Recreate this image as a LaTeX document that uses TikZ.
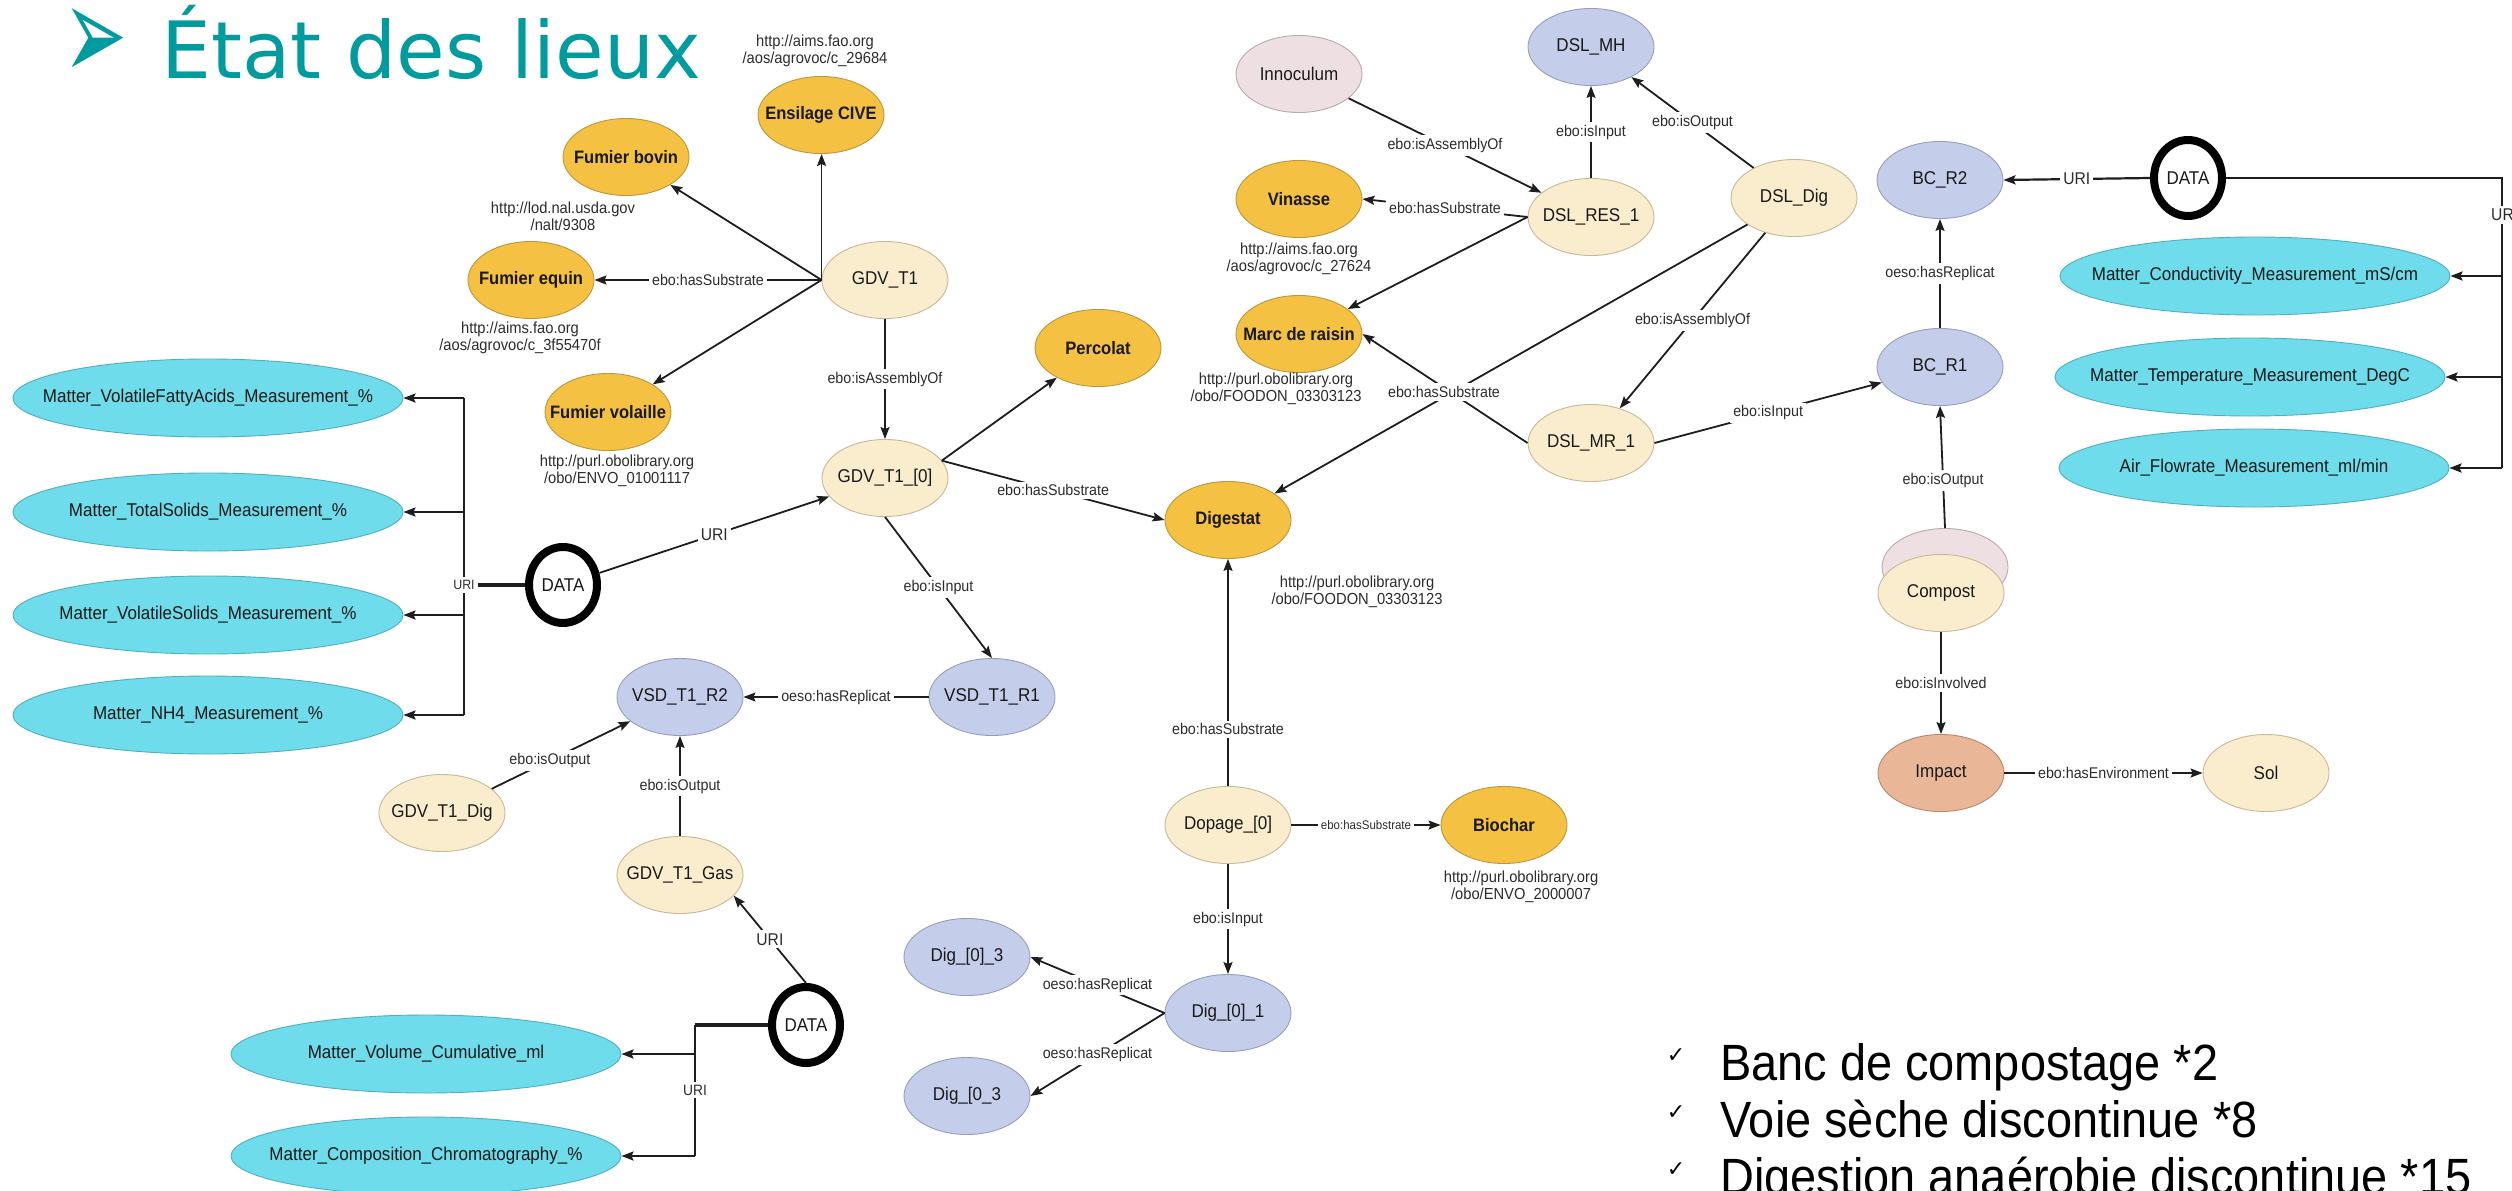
\documentclass[tikz,border=0pt]{standalone}
\usepackage{graphicx}
\usepackage{fontspec}
\setmainfont{Liberation Sans}
\newfontfamily\graphfont[FakeStretch=0.92]{Liberation Sans}
\newfontfamily\listfont[FakeStretch=0.92]{Liberation Sans}
\newfontfamily\titlefont{DejaVu Sans}
\usetikzlibrary{arrows.meta,shapes.geometric}

\definecolor{titleteal}{RGB}{0,155,158}
\definecolor{goldfill}{RGB}{244,193,66}
\definecolor{golddraw}{RGB}{190,150,60}
\definecolor{creamfill}{RGB}{250,237,205}
\definecolor{creamdraw}{RGB}{200,185,150}
\definecolor{lavfill}{RGB}{196,205,234}
\definecolor{lavdraw}{RGB}{150,158,190}
\definecolor{pinkfill}{RGB}{238,224,226}
\definecolor{pinkdraw}{RGB}{185,170,172}
\definecolor{salmonfill}{RGB}{234,182,152}
\definecolor{salmondraw}{RGB}{185,135,110}
\definecolor{cyanfill}{RGB}{110,220,234}
\definecolor{cyandraw}{RGB}{80,175,195}
\definecolor{linecol}{RGB}{30,30,30}
\definecolor{nodeink}{RGB}{25,25,25}
\definecolor{labelink}{RGB}{45,45,45}

% zero-width box: keeps the ellipse size independent of the text width
\newcommand\ctr[1]{\makebox[0pt][c]{#1}}

\tikzset{
  base/.style={ellipse, minimum width=126pt, minimum height=77pt, inner sep=0pt,
    line width=0.9pt, text=nodeink, font=\graphfont\fontsize{18.5}{20}\selectfont},
  gold/.style={base, fill=goldfill, draw=golddraw, font=\graphfont\bfseries\fontsize{18}{20}\selectfont},
  cream/.style={base, fill=creamfill, draw=creamdraw},
  lav/.style={base, fill=lavfill, draw=lavdraw},
  pinkn/.style={base, fill=pinkfill, draw=pinkdraw},
  salmon/.style={base, fill=salmonfill, draw=salmondraw},
  meas/.style={ellipse, minimum width=390pt, minimum height=78pt, inner sep=0pt,
    fill=cyanfill, draw=cyandraw, line width=0.9pt, text=nodeink,
    font=\graphfont\fontsize{18.5}{20}\selectfont},
  datan/.style={ellipse, minimum width=68pt, minimum height=76pt, inner sep=0pt,
    draw=black, line width=8pt, fill=white, text=nodeink,
    font=\graphfont\fontsize{18.5}{20}\selectfont},
  url/.style={align=center, inner sep=0pt, text=labelink,
    font=\graphfont\fontsize{16}{17}\selectfont},
  edge/.style={draw=linecol, line width=1.8pt},
  arr/.style={edge, -{Stealth[length=12pt,width=9pt,inset=2pt]}},
  busedge/.style={draw=linecol, line width=2.2pt},
  busarr/.style={busedge, -{Stealth[length=12pt,width=9pt,inset=2pt]}},
  thickedge/.style={draw=linecol, line width=3.4pt},
  elab/.style={fill=white, inner sep=3pt, text=labelink,
    font=\graphfont\fontsize{15.5}{17}\selectfont},
  urilab/.style={elab, font=\graphfont\fontsize{17}{18}\selectfont},
  buslab/.style={elab, font=\graphfont\fontsize{13.5}{15}\selectfont},
  smalllab/.style={elab, font=\graphfont\fontsize{12.5}{14}\selectfont},
  bullettext/.style={anchor=base west, inner sep=0pt, text=black,
    font=\listfont\fontsize{51}{57}\selectfont},
  tick/.style={inner sep=0pt, text=black, font=\titlefont\fontsize{22}{22}\selectfont},
}

\begin{document}
\begin{tikzpicture}[x=1pt,y=-1pt]
\useasboundingbox (0,0) rectangle (2512,1191);
\fill[white] (0,0) rectangle (2512,1191);

% ---- heading ----
\node[inner sep=0pt, text=titleteal, font=\titlefont\fontsize{62}{62}\selectfont] (bullet) at (96,44) {\resizebox{64pt}{72pt}{➢}};
\node[anchor=base west, inner sep=0pt, text=titleteal, font=\titlefont\fontsize{79}{80}\selectfont] (title) at (161,78) {État des lieux};

% ---- GDV branch ----
\node[gold]  (ens)  at (821,115) {\ctr{Ensilage CIVE}};
\node[gold]  (bov)  at (626,157) {\ctr{Fumier bovin}};
\node[gold]  (equ)  at (531,280) {\ctr{Fumier equin}};
\node[gold]  (vol)  at (608,412) {\ctr{Fumier volaille}};
\node[cream] (g1)   at (885,280) {\ctr{GDV\_T1}};
\node[cream] (g0)   at (885,478) {\ctr{GDV\_T1\_[0]}};
\node[gold]  (perc) at (1098,348) {\ctr{Percolat}};
\node[gold]  (dig)  at (1228,520) {\ctr{Digestat}};
\node[datan] (data1) at (563,585) {\ctr{DATA}};

\node[meas] (vfa)  at (208,398) {\ctr{Matter\_VolatileFattyAcids\_Measurement\_\%}};
\node[meas] (ts)   at (208,512) {\ctr{Matter\_TotalSolids\_Measurement\_\%}};
\node[meas] (vs)   at (208,615) {\ctr{Matter\_VolatileSolids\_Measurement\_\%}};
\node[meas] (nh4)  at (208,715) {\ctr{Matter\_NH4\_Measurement\_\%}};

\node[lav]   (r1)   at (992,697) {\ctr{VSD\_T1\_R1}};
\node[lav]   (r2)   at (680,697) {\ctr{VSD\_T1\_R2}};
\node[cream] (gdig) at (442,813) {\ctr{GDV\_T1\_Dig}};
\node[cream] (gas)  at (680,875) {\ctr{GDV\_T1\_Gas}};
\node[datan] (data2) at (806,1025) {\ctr{DATA}};
\node[meas]  (volc)  at (426,1054) {\ctr{Matter\_Volume\_Cumulative\_ml}};
\node[meas]  (chrom) at (426,1156) {\ctr{Matter\_Composition\_Chromatography\_\%}};

% ---- doping branch ----
\node[cream] (dop)  at (1228,825) {\ctr{Dopage\_[0]}};
\node[gold]  (bio)  at (1504,825) {\ctr{Biochar}};
\node[lav]   (d1)   at (1228,1013) {\ctr{Dig\_[0]\_1}};
\node[lav]   (d03)  at (967,957) {\ctr{Dig\_[0]\_3}};
\node[lav]   (d03b) at (967,1096) {\ctr{Dig\_[0\_3}};

% ---- DSL branch ----
\node[pinkn] (inno)   at (1299,74) {\ctr{Innoculum}};
\node[lav]   (mh)     at (1591,47) {\ctr{DSL\_MH}};
\node[cream] (res1)   at (1591,217) {\ctr{DSL\_RES\_1}};
\node[gold]  (vin)    at (1299,199) {\ctr{Vinasse}};
\node[gold]  (marc)   at (1299,334) {\ctr{Marc de raisin}};
\node[cream] (dsldig) at (1794,198) {\ctr{DSL\_Dig}};
\node[cream] (mr1)    at (1591,443) {\ctr{DSL\_MR\_1}};

% ---- composting bench ----
\node[lav]   (bcr1)   at (1940,367) {\ctr{BC\_R1}};
\node[lav]   (bcr2)   at (1940,180) {\ctr{BC\_R2}};
\node[datan] (data3)  at (2188,178) {\ctr{DATA}};
\node[meas]  (cond)   at (2255,276) {\ctr{Matter\_Conductivity\_Measurement\_mS/cm}};
\node[meas]  (temp)   at (2250,377) {\ctr{Matter\_Temperature\_Measurement\_DegC}};
\node[meas]  (air)    at (2254,468) {\ctr{Air\_Flowrate\_Measurement\_ml/min}};
\node[pinkn] (compbg) at (1945,567) {};
\node[cream] (comp)   at (1941,593) {\ctr{Compost}};
\node[salmon] (imp)   at (1941,773) {\ctr{Impact}};
\node[cream] (sol)    at (2266,773) {\ctr{Sol}};

% ---- identifiers ----
\node[url] (u1) at (815,51)   {http://aims.fao.org\\/aos/agrovoc/c\_29684};
\node[url] (u2) at (563,216)  {http://lod.nal.usda.gov\\/nalt/9308};
\node[url] (u3) at (520,338)  {http://aims.fao.org\\/aos/agrovoc/c\_3f55470f};
\node[url] (u4) at (617,471)  {http://purl.obolibrary.org\\/obo/ENVO\_01001117};
\node[url] (u5) at (1299,259) {http://aims.fao.org\\/aos/agrovoc/c\_27624};
\node[url] (u6) at (1276,389) {http://purl.obolibrary.org\\/obo/FOODON\_03303123};
\node[url] (u7) at (1357,592) {http://purl.obolibrary.org\\/obo/FOODON\_03303123};
\node[url] (u8) at (1521,887) {http://purl.obolibrary.org\\/obo/ENVO\_2000007};

% ---- connectors: GDV ----
\coordinate (g1w) at (g1.west);
\draw[arr] (g1w) -- (bov);
\draw[arr] (g1w) -- node[elab]{ebo:hasSubstrate} (equ);
\draw[arr] (g1w) -- (vol);
\draw[arr] (g1w) -- (g1w |- ens.south);
\draw[arr] (g1.south) -- node[elab]{ebo:isAssemblyOf} (g0.north);
\draw[arr] (g0.17) -- (perc);
\draw[arr] (g0.17) -- node[elab]{ebo:hasSubstrate} (dig.west);
\draw[arr] (data1) -- node[urilab]{URI} (g0);

\coordinate (busL) at (464,585);
\draw[thickedge] (data1.west) -- (busL);
\draw[busedge] (busL |- vfa.east) -- (busL |- nh4.east);
\foreach \m in {vfa,ts,vs,nh4} \draw[busarr] (busL |- \m.east) -- (\m.east);
\node[buslab] (uriL) at (busL) {URI};

\draw[arr] (g0.south) -- node[elab]{ebo:isInput} (r1.north);
\draw[arr] (r1.west) -- node[elab]{oeso:hasReplicat} (r2.east);
\draw[arr] (gdig) -- node[elab,pos=0.42]{ebo:isOutput} (r2);
\draw[arr] (gas.north) -- node[elab]{ebo:isOutput} (r2.south);
\draw[arr] (data2.north) -- node[urilab]{URI} (gas.-21);

\coordinate (busB) at (695,1025);
\draw[thickedge] (data2.west) -- (busB);
\draw[busedge] (busB) -- (busB |- chrom.east);
\draw[busarr] (busB |- volc.east) -- (volc.east);
\draw[busarr] (busB |- chrom.east) -- (chrom.east);
\node[buslab, font=\graphfont\fontsize{15}{16}\selectfont] (uriB) at (695,1090) {URI};

% ---- connectors: doping ----
\draw[arr] (dop.north) -- node[elab,pos=0.25]{ebo:hasSubstrate} (dig.south);
\draw[arr] (dop.east) -- node[smalllab]{ebo:hasSubstrate} (bio.west);
\draw[arr] (dop.south) -- node[elab]{ebo:isInput} (d1.north);
\draw[arr] (d1.west) -- node[elab]{oeso:hasReplicat} (d03.east);
\draw[arr] (d1.west) -- node[elab]{oeso:hasReplicat} (d03b.east);

% ---- connectors: DSL ----
\draw[arr] (inno) -- node[elab]{ebo:isAssemblyOf} (res1);
\draw[arr] (res1.west) -- node[elab]{ebo:hasSubstrate} (vin.east);
\draw[arr] (res1.west) -- (marc);
\draw[arr] (res1.north) -- node[elab]{ebo:isInput} (mh.south);
\draw[arr] (dsldig) -- node[elab]{ebo:isOutput} (mh);
\draw[arr] (dsldig) -- node[elab]{ebo:isAssemblyOf} (mr1);
\draw[arr] (dsldig) -- (dig);
\draw[arr] (mr1.west) -- (marc.east);
\node[elab] (hsx) at (1444,392) {ebo:hasSubstrate};
\draw[arr] (mr1.east) -- node[elab]{ebo:isInput} (bcr1);

% ---- connectors: composting ----
\draw[arr] (bcr1.north) -- node[elab]{oeso:hasReplicat} (bcr2.south);
\draw[arr, line width=2.2pt] (data3.west) -- node[urilab]{URI} (bcr2.east);
\coordinate (busR) at (2502,178);
\draw[busedge] (data3.east) -- (busR) -- (busR |- air.east);
\foreach \m in {cond,temp,air} \draw[busarr] (busR |- \m.east) -- (\m.east);
\node[urilab, anchor=west, inner xsep=1pt] (uriR) at (2490,215) {UR};
\draw[arr] (compbg.north) -- node[elab,pos=0.39]{ebo:isOutput} (bcr1.south);
\draw[arr] (comp.south) -- node[elab]{ebo:isInvolved} (imp.north);
\draw[arr] (imp.east) -- node[elab]{ebo:hasEnvironment} (sol.west);

% ---- summary list ----
\node[tick] (t1) at (1676,1056) {✓};
\node[tick] (t2) at (1676,1113) {✓};
\node[tick] (t3) at (1676,1170) {✓};
\node[bullettext] (l1) at (1720,1080) {Banc de compostage *2};
\node[bullettext] (l2) at (1720,1137) {Voie sèche discontinue *8};
\node[bullettext] (l3) at (1720,1194) {Digestion anaérobie discontinue *15};
\end{tikzpicture}
\end{document}
